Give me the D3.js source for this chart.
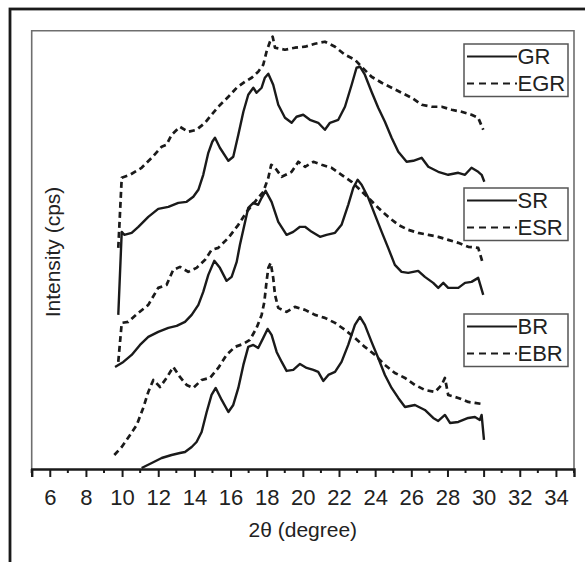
<!DOCTYPE html>
<html>
<head>
<meta charset="utf-8">
<script src="https://cdn.jsdelivr.net/npm/d3@7"></script>
<style>
  body { margin: 0; background: #fff; }
  svg text { font-family: "Liberation Sans", Arial, sans-serif; fill: #222; }
</style>
</head>
<body>
<div class="vis"></div>
<script>
// [2theta, intensity] (arbitrary cps units)
var grData = [[9.79,154],[9.98,237],[10.12,234],[10.53,236],[10.90,242],[11.45,252],[12.00,260],[12.56,262],[13.11,266],[13.57,267],
  [13.94,272],[14.22,279],[14.49,294],[14.77,316],[14.99,327],[15.14,331],[15.41,321],[15.88,308],[16.15,312],[16.43,334],
  [16.71,357],[16.98,374],[17.26,381],[17.44,376],[17.72,381],[17.90,391],[18.09,395],[18.36,384],[18.64,364],[19.01,351],
  [19.38,346],[19.65,352],[20.02,354],[20.39,349],[20.85,346],[21.22,339],[21.50,346],[21.96,349],[22.33,362],[22.70,384],
  [22.97,401],[23.16,402],[23.43,394],[23.80,377],[24.17,361],[24.54,347],[24.91,331],[25.28,317],[25.74,307],[26.11,308],
  [26.57,311],[26.94,302],[27.49,297],[28.04,294],[28.60,296],[28.97,294],[29.33,301],[29.70,297],[29.89,294],[30.04,287]];

var egrData = [[9.79,221],[9.98,291],[10.44,294],[11.08,301],[11.64,311],[12.19,322],[12.46,324],[12.74,334],[13.20,342],[13.66,337],
  [14.12,339],[14.59,346],[14.95,354],[15.32,362],[15.88,372],[16.34,381],[16.80,387],[17.17,391],[17.53,397],[17.81,404],
  [17.99,417],[18.18,427],[18.33,432],[18.46,421],[19.01,419],[19.56,421],[20.12,422],[20.67,425],[21.22,427],[21.78,422],
  [22.33,414],[22.88,409],[23.25,402],[23.80,392],[24.36,386],[24.91,381],[25.46,376],[26.02,371],[26.57,364],[27.12,362],
  [27.68,362],[28.23,359],[28.78,357],[29.33,354],[29.70,351],[29.98,339]];

var srData = [[9.61,102],[10.07,107],[10.53,114],[10.99,124],[11.45,132],[12.00,137],[12.56,141],[13.02,143],[13.48,147],[13.85,154],
  [14.22,164],[14.49,177],[14.77,194],[15.10,208],[15.41,201],[15.78,188],[16.06,192],[16.34,207],[16.52,224],[16.98,261],
  [17.26,266],[17.53,264],[17.72,271],[17.94,278],[18.27,267],[18.64,247],[19.10,234],[19.47,237],[19.84,242],[20.12,242],
  [20.49,237],[20.95,232],[21.31,234],[21.78,236],[22.14,244],[22.51,264],[22.79,281],[23.03,289],[23.25,284],[23.62,271],
  [23.99,254],[24.36,237],[24.72,221],[25.09,204],[25.46,197],[25.83,196],[26.38,198],[26.75,192],[27.21,186],[27.49,181],
  [27.77,186],[28.04,181],[28.60,181],[28.97,186],[29.33,187],[29.70,191],[29.98,174]];

var esrData = [[9.79,107],[9.98,146],[10.34,147],[10.90,156],[11.45,164],[12.00,181],[12.46,184],[12.83,199],[13.20,202],[13.66,197],
  [14.12,201],[14.59,209],[14.95,219],[15.32,221],[15.88,231],[16.43,244],[16.89,257],[17.35,267],[17.81,277],[18.09,291],
  [18.25,304],[18.46,301],[18.83,292],[19.38,297],[19.75,307],[20.12,302],[20.58,307],[21.04,304],[21.59,301],[22.14,294],
  [22.70,287],[23.16,279],[23.62,271],[24.17,261],[24.72,252],[25.28,244],[25.83,239],[26.38,236],[26.94,234],[27.49,232],
  [28.04,229],[28.60,226],[29.15,222],[29.70,221],[29.98,204]];

var brData = [[11.08,1],[11.64,6],[12.19,11],[12.74,14],[13.20,16],[13.48,17],[13.85,22],[14.12,27],[14.40,37],[14.68,57],
  [14.95,74],[15.18,81],[15.51,69],[15.88,57],[16.15,64],[16.43,81],[16.71,104],[16.98,122],[17.26,124],[17.53,121],
  [17.81,131],[18.05,140],[18.27,134],[18.55,117],[18.83,107],[19.10,98],[19.47,99],[19.84,105],[20.21,101],[20.58,99],
  [20.85,97],[21.13,88],[21.41,94],[21.78,97],[22.14,107],[22.51,124],[22.88,144],[23.16,152],[23.43,144],[23.80,127],
  [24.17,111],[24.54,94],[24.91,81],[25.28,71],[25.65,62],[26.20,64],[26.75,59],[27.21,51],[27.49,48],[27.86,54],
  [28.14,46],[28.60,47],[29.15,51],[29.52,52],[29.79,49],[29.89,54],[30.02,29]];

var ebrData = [[9.57,14],[9.98,22],[10.44,34],[10.81,44],[11.17,61],[11.45,77],[11.73,89],[12.10,82],[12.46,91],[12.83,102],
  [13.20,92],[13.57,84],[13.94,81],[14.40,89],[14.86,91],[15.32,101],[15.78,114],[16.24,122],[16.71,125],[17.07,129],
  [17.44,141],[17.72,154],[17.87,167],[17.99,187],[18.09,201],[18.22,206],[18.36,191],[18.46,174],[18.64,161],[19.10,157],
  [19.56,162],[20.12,159],[20.67,154],[21.22,151],[21.78,146],[22.33,139],[22.88,131],[23.43,122],[23.99,114],[24.54,104],
  [25.09,96],[25.65,91],[26.20,84],[26.75,79],[27.31,77],[27.68,84],[27.86,91],[28.04,74],[28.60,71],[29.15,67],
  [29.52,66],[29.89,65]];

var majorTicks = [6, 8, 10, 12, 14, 16, 18, 20, 22, 24, 26, 28, 30, 32, 34];
var minorTicks = [5, 7, 9, 11, 13, 15, 17, 19, 21, 23, 25, 27, 29, 31, 33, 35];

var legends = [
  { top: 44,  names: ['GR', 'EGR'] },
  { top: 188, names: ['SR', 'ESR'] },
  { top: 314, names: ['BR', 'EBR'] }
];

var series = [
  { data: grData,  dashed: false },
  { data: egrData, dashed: true  },
  { data: srData,  dashed: false },
  { data: esrData, dashed: true  },
  { data: brData,  dashed: false },
  { data: ebrData, dashed: true  }
];

var W = 585, H = 562;
// note: "top" is reserved on window, so use plot* names
var plotLeft = 31.7, plotRight = 574, plotTop = 30.7, plotBottom = 469;

var svg = d3.select('div.vis')
            .append('svg')
            .attr('width', W)
            .attr('height', H);

// outer frame, runs off right and bottom edges
svg.append('rect')
   .attr('x', 10).attr('y', 9)
   .attr('width', 620).attr('height', 620)
   .attr('fill', 'none')
   .attr('stroke', '#1a1a1a')
   .attr('stroke-width', 2.8);

var x = d3.scaleLinear().domain([5, 35]).range([plotLeft, plotRight]);
var y = d3.scaleLinear().domain([0, 438]).range([plotBottom, plotTop]);

// plot frame
svg.append('path')
   .attr('d', 'M' + plotLeft + ',' + plotBottom + 'V' + plotTop + 'H' + plotRight + 'V' + plotBottom)
   .attr('fill', 'none')
   .attr('stroke', '#6e6e6e')
   .attr('stroke-width', 1.6);

var line = d3.line()
             .x(function(d) { return x(d[0]); })
             .y(function(d) { return y(d[1]); });

svg.append('g')
   .selectAll('path')
   .data(series)
   .enter()
   .append('path')
      .attr('d', function(d) { return line(d.data); })
      .attr('fill', 'none')
      .attr('stroke', '#1a1a1a')
      .attr('stroke-width', function(d) { return d.dashed ? 2.7 : 2.4; })
      .attr('stroke-linejoin', 'round')
      .attr('stroke-dasharray', function(d) { return d.dashed ? '6,4' : null; });

// x axis
var xAxis = svg.append('g').attr('transform', 'translate(0,' + plotBottom + ')');
xAxis.call(d3.axisBottom(x).tickValues(majorTicks).tickSize(8).tickPadding(12).tickFormat(d3.format('d')));
xAxis.call(function(g) {
  g.select('.domain').attr('stroke', '#1a1a1a').attr('stroke-width', 2.4);
  g.selectAll('.tick line').attr('stroke', '#1a1a1a').attr('stroke-width', 2);
  g.selectAll('.tick text').attr('font-size', 22).attr('font-family', '"Liberation Sans", Arial, sans-serif').attr('fill', '#222');
});
xAxis.selectAll('line.minor')
     .data(minorTicks)
     .enter()
     .append('line')
        .attr('class', 'minor')
        .attr('x1', function(d) { return x(d); })
        .attr('x2', function(d) { return x(d); })
        .attr('y1', 0).attr('y2', 4)
        .attr('stroke', '#1a1a1a')
        .attr('stroke-width', 2);

svg.append('text')
   .attr('x', (plotLeft + plotRight) / 2)
   .attr('y', 537)
   .attr('text-anchor', 'middle')
   .attr('font-size', 21)
   .text('2θ (degree)');

svg.append('text')
   .attr('transform', 'translate(60,252) rotate(-90)')
   .attr('text-anchor', 'middle')
   .attr('font-size', 21)
   .text('Intensity (cps)');

// legend boxes
var lg = svg.selectAll('g.legend')
            .data(legends)
            .enter()
            .append('g')
            .attr('class', 'legend')
            .attr('transform', function(d) { return 'translate(464,' + d.top + ')'; });

lg.append('rect')
  .attr('width', 104).attr('height', 52.5)
  .attr('fill', '#fff')
  .attr('stroke', '#555')
  .attr('stroke-width', 1.5);

lg.each(function(d) {
  var g = d3.select(this);
  d.names.forEach(function(name, i) {
    var ly = 12.5 + i * 27;
    g.append('line')
     .attr('x1', 3).attr('x2', 53)
     .attr('y1', ly).attr('y2', ly)
     .attr('stroke', '#1a1a1a')
     .attr('stroke-width', 2.2)
     .attr('stroke-dasharray', i === 1 ? '7,5' : null);
    g.append('text')
     .attr('x', 53.5)
     .attr('y', ly + 7.5)
     .attr('font-size', 22)
     .text(name);
  });
});
</script>
</body>
</html>
